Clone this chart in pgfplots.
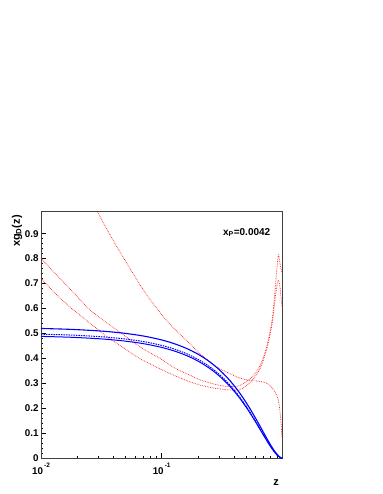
\documentclass[border=0pt]{standalone}
\usepackage{fontspec}
\setmainfont{Liberation Sans}
\usepackage{pgfplots}
\pgfplotsset{compat=1.18}
\begin{document}
\begin{tikzpicture}[x=1pt,y=1pt]
\path[use as bounding box] (0,0) rectangle (382,494);
\begin{axis}[
  at={(41pt,35.7pt)}, anchor=south west,
  scale only axis, width=241.3pt, height=246.6pt,
  xmode=log, xmin=0.01, xmax=1, ymin=0, ymax=0.988,
  axis line style={black!75, line width=0.6pt},
  xtick={0.01,0.1},
  xticklabels={{10\raisebox{7.5pt}{\fontsize{6.5}{7}\selectfont\,-2}},{10\raisebox{7.5pt}{\fontsize{6.5}{7}\selectfont\,-1}}},
  minor xtick={0.02,0.03,0.04,0.05,0.06,0.07,0.08,0.09,0.2,0.3,0.4,0.5,0.6,0.7,0.8,0.9},
  ytick={0,0.1,0.2,0.3,0.4,0.5,0.6,0.7,0.8,0.9},
  yticklabels={0,0.1,0.2,0.3,0.4,0.5,0.6,0.7,0.8,0.9},
  minor y tick num=4,
  xtick pos=bottom, ytick pos=left,
  tick align=inside,
  major tick length=5pt, minor tick length=2.5pt,
  tick style={black, line width=0.4pt},
  every tick label/.append style={font=\bfseries\fontsize{9.8}{11}\selectfont},
  yticklabel style={xshift=1pt},
  xticklabel style={yshift=-1pt},
]
% red dotted curves
\addplot[red!90, densely dotted, line width=0.7pt, smooth] table {
0.02 1.16
0.0294 0.988
0.04 0.87
0.0544 0.762
0.075 0.655
0.109 0.554
0.14 0.50
0.170 0.461
0.206 0.421
0.26 0.38
0.30 0.36
0.365 0.340
0.44 0.322
0.533 0.312
0.6 0.310
0.688 0.306
0.76 0.298
0.832 0.280
0.88 0.262
0.92 0.238
0.944 0.21
0.965 0.17
0.98 0.13
0.99 0.087
};
\addplot[red!90, densely dotted, line width=0.7pt, smooth] table {
0.01 0.801
0.0135 0.734
0.0185 0.665
0.0254 0.595
0.035 0.543
0.05 0.489
0.0658 0.447
0.1 0.396
0.13 0.360
0.17 0.334
0.206 0.315
0.26 0.300
0.3 0.293
0.365 0.287
0.44 0.291
0.501 0.307
0.569 0.328
0.63 0.357
0.688 0.396
0.75 0.455
0.80 0.520
0.832 0.570
0.859 0.640
0.895 0.740
0.927 0.815
0.95 0.790
0.976 0.760
1.0 0.740
};
\addplot[red!90, densely dotted, line width=0.7pt, smooth] table {
0.01 0.721
0.0135 0.655
0.0185 0.595
0.025 0.545
0.035 0.488
0.05 0.438
0.0658 0.400
0.1 0.355
0.13 0.330
0.17 0.307
0.206 0.294
0.26 0.283
0.3 0.278
0.365 0.274
0.44 0.274
0.501 0.290
0.569 0.315
0.63 0.345
0.688 0.385
0.75 0.445
0.80 0.505
0.832 0.555
0.86 0.615
0.89 0.670
0.914 0.705
0.935 0.712
0.96 0.680
0.976 0.645
1.0 0.600
};
% blue band
\addplot[blue, line width=1.1pt, smooth] table {
0.01 0.5202
0.015 0.5178
0.02 0.5154
0.03 0.5105
0.04 0.5055
0.05 0.5005
0.065 0.4928
0.08 0.4849
0.1 0.4742
0.12 0.4633
0.141 0.4515
0.17 0.4349
0.206 0.4136
0.25 0.3867
0.3 0.3553
0.35 0.3230
0.388 0.2982
0.44 0.2639
0.5 0.2246
0.533 0.2032
0.6 0.1610
0.65 0.1310
0.7 0.1027
0.757 0.0732
0.8 0.0534
0.85 0.0334
0.9 0.0172
0.95 0.0056
0.98 0.0013
1.0 0.0
};
\addplot[blue, line width=1.0pt, dash pattern=on 1.5pt off 1pt, smooth] table {
0.01 0.4973
0.015 0.4950
0.02 0.4926
0.03 0.4878
0.04 0.4830
0.05 0.4780
0.065 0.4705
0.08 0.4628
0.1 0.4524
0.12 0.4417
0.141 0.4302
0.17 0.4139
0.206 0.3931
0.25 0.3669
0.3 0.3362
0.35 0.3048
0.388 0.2807
0.44 0.2476
0.5 0.2096
0.533 0.1891
0.6 0.1487
0.65 0.1201
0.7 0.0935
0.757 0.0659
0.8 0.0476
0.85 0.0293
0.9 0.0147
0.95 0.0046
0.98 0.0010
1.0 0.0
};
\addplot[blue, line width=1.0pt, smooth] table {
0.01 0.4884
0.015 0.4861
0.02 0.4838
0.03 0.4791
0.04 0.4743
0.05 0.4694
0.065 0.4621
0.08 0.4545
0.1 0.4443
0.12 0.4338
0.141 0.4225
0.17 0.4065
0.206 0.3860
0.25 0.3603
0.3 0.3302
0.35 0.2993
0.388 0.2757
0.44 0.2432
0.5 0.2058
0.533 0.1857
0.6 0.1460
0.65 0.1179
0.7 0.0918
0.757 0.0647
0.8 0.0467
0.85 0.0288
0.9 0.0144
0.95 0.0045
0.98 0.0010
1.0 0.0
};
\node[anchor=base west, font=\bfseries\fontsize{10}{12}\selectfont] at (rel axis cs:0.74,0.905) {x\textsubscript{P}=0.0042};
\end{axis}
\node[rotate=90, anchor=east, font=\bfseries\fontsize{11}{13}\selectfont] at (17pt,282.3pt) {xg\textsubscript{D}(z)};
\node[anchor=base east, font=\bfseries\fontsize{11}{13}\selectfont] at (282.5pt,9pt) {z};
\end{tikzpicture}
\end{document}
